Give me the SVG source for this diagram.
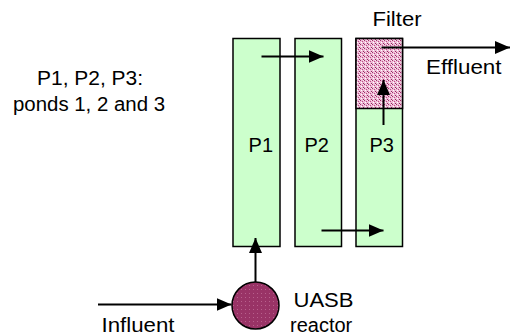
<svg xmlns="http://www.w3.org/2000/svg" width="510" height="336" viewBox="0 0 510 336">
<style>
text{font-family:"Liberation Sans",Arial,sans-serif;font-size:20px;fill:#000}
.pond{fill:#ccffcc;stroke:#000;stroke-width:1.5}
.flow{stroke:#000;stroke-width:2;fill:none;marker-end:url(#ah)}
</style>
<defs>
<marker id="ah" markerWidth="15" markerHeight="13" refX="15" refY="6.5" orient="auto" markerUnits="userSpaceOnUse">
<path d="M0,0 L15,6.5 L0,13 Z" fill="#000"/>
</marker>
<pattern id="filt" width="4" height="4" patternUnits="userSpaceOnUse">
<rect width="4" height="4" fill="#eebcd6"/>
<rect x="0" y="0" width="1" height="1" fill="#a0306a"/>
<rect x="2" y="1" width="1" height="1" fill="#c04888"/>
<rect x="1" y="2" width="1" height="1" fill="#ffffff"/>
<rect x="3" y="3" width="1" height="1" fill="#902860"/>
<rect x="3" y="0" width="1" height="1" fill="#f8e4ee"/>
</pattern>
<pattern id="uasb" width="4" height="4" patternUnits="userSpaceOnUse">
<rect width="4" height="4" fill="#993366"/>
<rect x="1" y="1" width="1" height="1" fill="#b8608c"/>
</pattern>
</defs>

<g id="legend">
<text x="90" y="85" text-anchor="middle" textLength="106" lengthAdjust="spacingAndGlyphs">P1, P2, P3:</text>
<text x="89" y="110.5" text-anchor="middle" textLength="152" lengthAdjust="spacingAndGlyphs">ponds 1, 2 and 3</text>
</g>

<g id="P1">
<rect class="pond" x="233" y="38.5" width="47" height="208"/>
<text x="260.8" y="151.5" text-anchor="middle">P1</text>
</g>
<g id="P2">
<rect class="pond" x="295" y="38.5" width="46.5" height="208"/>
<text x="316.7" y="151.5" text-anchor="middle">P2</text>
</g>
<g id="P3">
<rect class="pond" x="356" y="38.5" width="46.5" height="208"/>
<text x="381.7" y="151.5" text-anchor="middle">P3</text>
</g>
<g id="filter">
<rect x="356" y="38.5" width="46.5" height="70" fill="url(#filt)" stroke="#000" stroke-width="1.5"/>
<text x="397" y="26" text-anchor="middle" textLength="49" lengthAdjust="spacingAndGlyphs">Filter</text>
</g>
<g id="uasb-reactor">
<circle cx="255.5" cy="305.5" r="23.5" fill="url(#uasb)" stroke="#000" stroke-width="1.5"/>
<text x="293.5" y="306.5" textLength="60" lengthAdjust="spacingAndGlyphs">UASB</text>
<text x="290" y="332">reactor</text>
</g>
<g id="influent-label">
<text x="101.5" y="331.5" textLength="73" lengthAdjust="spacingAndGlyphs">Influent</text>
</g>
<g id="effluent-label">
<text x="426" y="74" textLength="75.5" lengthAdjust="spacingAndGlyphs">Effluent</text>
</g>

<g id="connectors">
<line class="flow" x1="98" y1="304.5" x2="231.5" y2="304.5"/>
<line class="flow" x1="255.5" y1="282" x2="255.5" y2="238"/>
<line class="flow" x1="261.5" y1="56.5" x2="323.5" y2="56.5"/>
<line class="flow" x1="321.5" y1="230.5" x2="383.5" y2="230.5"/>
<line class="flow" x1="383.5" y1="125" x2="383.5" y2="80"/>
<line class="flow" x1="381.5" y1="47.5" x2="510" y2="47.5"/>
</g>
</svg>
